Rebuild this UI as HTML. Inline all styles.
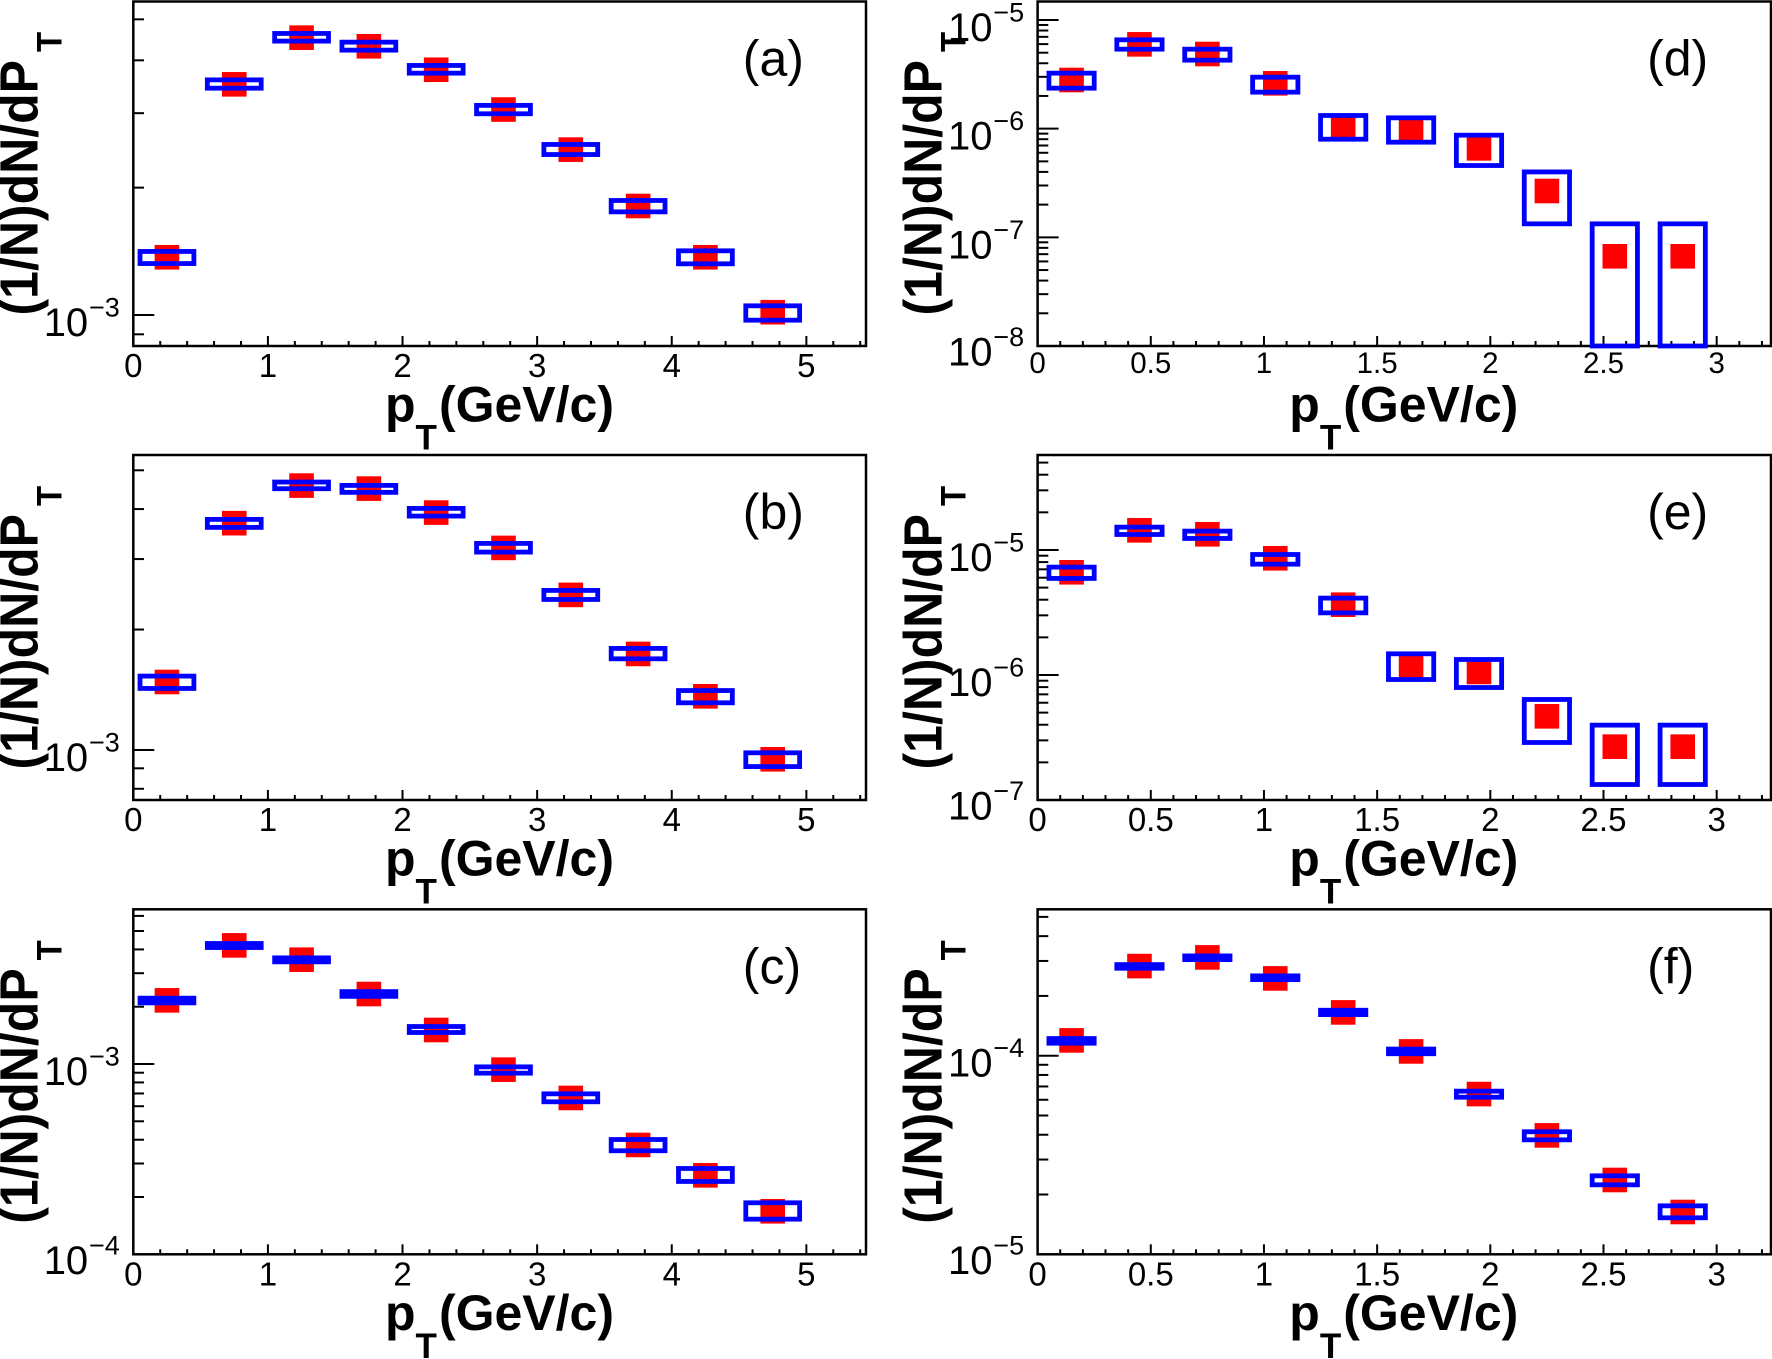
<!DOCTYPE html>
<html lang="en">
<head>
<meta charset="utf-8">
<title>Transverse momentum spectra, panels a to f</title>
<style>
  html, body { margin: 0; padding: 0; background: #fff; }
  svg { display: block; font-family: "Liberation Sans", sans-serif; }
</style>
</head>
<body>
<svg id="figure" xmlns="http://www.w3.org/2000/svg" width="1772" height="1359" viewBox="0 0 1772 1359"></svg>
<script>
// ----- shared x data -----
const xBinsWide = [0.25, 0.75, 1.25, 1.75, 2.25, 2.75, 3.25, 3.75, 4.25, 4.75];
const xBinsNarrow = [0.15, 0.45, 0.75, 1.05, 1.35, 1.65, 1.95, 2.25, 2.55, 2.85];
const xTicksWide = [0, 1, 2, 3, 4, 5];
const xTickLabelsWide = ['0', '1', '2', '3', '4', '5'];
const xTicksNarrow = [0, 0.5, 1, 1.5, 2, 2.5, 3];
const xTickLabelsNarrow = ['0', '0.5', '1', '1.5', '2', '2.5', '3'];

// ----- panel (a) -----
const aValues = [1.369e-3, 3.51e-3, 4.525e-3, 4.318e-3, 3.80e-3, 3.06e-3, 2.46e-3, 1.81e-3, 1.369e-3, 1.015e-3];
const aSysLow = [1.323e-3, 3.437e-3, 4.441e-3, 4.228e-3, 3.73e-3, 2.99e-3, 2.395e-3, 1.753e-3, 1.321e-3, 0.972e-3];
const aSysHigh = [1.413e-3, 3.596e-3, 4.630e-3, 4.416e-3, 3.89e-3, 3.13e-3, 2.53e-3, 1.865e-3, 1.418e-3, 1.051e-3];
const aYRange = [8.445e-4, 5.51e-3];
const aDecades = [-3];

// ----- panel (b) -----
const bValues = [1.479e-3, 3.688e-3, 4.579e-3, 4.50e-3, 3.92e-3, 3.199e-3, 2.441e-3, 1.738e-3, 1.362e-3, 0.948e-3];
const bSysLow = [1.425e-3, 3.60e-3, 4.497e-3, 4.404e-3, 3.842e-3, 3.123e-3, 2.378e-3, 1.690e-3, 1.312e-3, 0.909e-3];
const bSysHigh = [1.530e-3, 3.77e-3, 4.673e-3, 4.584e-3, 4.016e-3, 3.283e-3, 2.505e-3, 1.794e-3, 1.408e-3, 0.984e-3];
const bYRange = [7.5e-4, 5.46e-3];
const bDecades = [-3];

// ----- panel (c) -----
const cValues = [2.16e-3, 4.20e-3, 3.533e-3, 2.332e-3, 1.509e-3, 0.934e-3, 0.663e-3, 0.3755e-3, 0.260e-3, 0.1683e-3];
const cSysLow = [2.095e-3, 4.093e-3, 3.442e-3, 2.267e-3, 1.464e-3, 0.895e-3, 0.633e-3, 0.350e-3, 0.2414e-3, 0.1530e-3];
const cSysHigh = [2.218e-3, 4.297e-3, 3.612e-3, 2.401e-3, 1.574e-3, 0.966e-3, 0.697e-3, 0.401e-3, 0.2825e-3, 0.1865e-3];
const cYRange = [1e-4, 6.5e-3];
const cDecades = [-4, -3];

// ----- panel (d) -----
const dValues = [2.805e-6, 5.97e-6, 4.865e-6, 2.614e-6, 1.029e-6, 9.72e-7, 6.59e-7, 2.669e-7, 6.69e-8, 6.69e-8];
const dSysLow = [2.359e-6, 5.39e-6, 4.27e-6, 2.168e-6, 8.0e-7, 7.51e-7, 4.58e-7, 1.331e-7, 1e-8, 1e-8];
const dSysHigh = [3.242e-6, 6.57e-6, 5.39e-6, 2.978e-6, 1.322e-6, 1.258e-6, 8.71e-7, 4.0e-7, 1.331e-7, 1.331e-7];
const dYRange = [1e-8, 1.48e-5];
const dDecades = [-8, -7, -6, -5];

// ----- panel (e) -----
const eValues = [6.63e-6, 1.436e-5, 1.335e-5, 8.58e-6, 3.65e-6, 1.166e-6, 1.057e-6, 4.67e-7, 2.67e-7, 2.67e-7];
const eSysLow = [5.92e-6, 1.330e-5, 1.236e-5, 7.70e-6, 3.14e-6, 9.20e-7, 7.94e-7, 2.884e-7, 1.33e-7, 1.33e-7];
const eSysHigh = [7.29e-6, 1.523e-5, 1.415e-5, 9.20e-6, 4.12e-6, 1.477e-6, 1.330e-6, 6.37e-7, 3.97e-7, 3.97e-7];
const eYRange = [1e-7, 5.75e-5];
const eDecades = [-7, -6, -5];

// ----- panel (f) -----
const fValues = [1.194e-4, 2.827e-4, 3.126e-4, 2.45e-4, 1.652e-4, 1.051e-4, 6.41e-5, 3.97e-5, 2.367e-5, 1.633e-5];
const fSysLow = [1.156e-4, 2.757e-4, 3.048e-4, 2.417e-4, 1.611e-4, 1.023e-4, 6.18e-5, 3.77e-5, 2.238e-5, 1.527e-5];
const fSysHigh = [1.22e-4, 2.876e-4, 3.18e-4, 2.523e-4, 1.694e-4, 1.080e-4, 6.63e-5, 4.14e-5, 2.484e-5, 1.754e-5];
const fYRange = [1e-5, 5.46e-4];
const fDecades = [-5, -4];

// ----- layout -----
const NS = 'http://www.w3.org/2000/svg';
const svg = document.getElementById('figure');
const wideAxis = { x0: 133.3, x1: 866, xMax: 5.443, major: 1, halfBin: 0.2, bins: xBinsWide, ticks: xTicksWide, tickLabels: xTickLabelsWide };
const narrowAxis = { x0: 1037.6, x1: 1771, xMax: 3.24, major: 0.5, halfBin: 0.1, bins: xBinsNarrow, ticks: xTicksNarrow, tickLabels: xTickLabelsNarrow };
const panels = [
  { id: 'a', ax: wideAxis, top: 1.5, bottom: 346, range: aYRange, decades: aDecades, values: aValues, low: aSysLow, high: aSysHigh, tickFont: 33, tickDrop: 31 },
  { id: 'b', ax: wideAxis, top: 455, bottom: 800, range: bYRange, decades: bDecades, values: bValues, low: bSysLow, high: bSysHigh, tickFont: 33, tickDrop: 31 },
  { id: 'c', ax: wideAxis, top: 909.3, bottom: 1254.3, range: cYRange, decades: cDecades, values: cValues, low: cSysLow, high: cSysHigh, tickFont: 33, tickDrop: 31 },
  { id: 'd', ax: narrowAxis, top: 1.5, bottom: 346, range: dYRange, decades: dDecades, values: dValues, low: dSysLow, high: dSysHigh, tickFont: 29.5, tickDrop: 27 },
  { id: 'e', ax: narrowAxis, top: 455, bottom: 800, range: eYRange, decades: eDecades, values: eValues, low: eSysLow, high: eSysHigh, tickFont: 33, tickDrop: 31 },
  { id: 'f', ax: narrowAxis, top: 909.3, bottom: 1254.3, range: fYRange, decades: fDecades, values: fValues, low: fSysLow, high: fSysHigh, tickFont: 33, tickDrop: 31 }
];

function make(parent, tag, attrs, text) {
  const el = document.createElementNS(NS, tag);
  for (const k in attrs) el.setAttribute(k, attrs[k]);
  if (text !== undefined) el.textContent = text;
  parent.appendChild(el);
  return el;
}

function drawPanel(p) {
  const ax = p.ax;
  const xScale = v => ax.x0 + (v / ax.xMax) * (ax.x1 - ax.x0);
  const logMin = Math.log10(p.range[0]);
  const logMax = Math.log10(p.range[1]);
  const yScale = v => p.bottom - (Math.log10(v) - logMin) / (logMax - logMin) * (p.bottom - p.top);

  const g = make(svg, 'g', {});
  
  

  // markers
  p.values.forEach((v, i) => {
    const m = make(g, 'rect', { x: xScale(ax.bins[i]) - 12.3, y: yScale(v) - 12.3, width: 24.6, height: 24.6, fill: '#ff0000' });
    
    
  });

  // y ticks
  for (let k = Math.floor(logMin); k <= Math.ceil(logMax); k++) {
    for (let d = 1; d <= 9; d++) {
      const val = d * Math.pow(10, k);
      if (val < p.range[0] * 0.999 || val > p.range[1]) continue;
      const y = yScale(val);
      const t = make(g, 'line', { x1: ax.x0, x2: ax.x0 + (d === 1 ? 21 : 10.7), y1: y, y2: y, stroke: '#000', 'stroke-width': 2 });
      
      
    }
  }

  // x ticks
  const minorStep = ax.major / 5;
  for (let n = 0; n * minorStep <= ax.xMax; n++) {
    const x = xScale(n * minorStep);
    const isMajor = n % 5 === 0;
    const t = make(g, 'line', { x1: x, x2: x, y1: p.bottom, y2: p.bottom - (isMajor ? 10 : 5), stroke: '#000', 'stroke-width': 2 });
    
    
  }

  // frame
  const frame = make(g, 'rect', { x: ax.x0, y: p.top, width: ax.x1 - ax.x0, height: p.bottom - p.top, fill: 'none', stroke: '#000', 'stroke-width': 2.5 });
  
  

  // systematic boxes
  p.values.forEach((v, i) => {
    const yTop = yScale(p.high[i]);
    const yBot = yScale(p.low[i]);
    const xL = xScale(ax.bins[i] - ax.halfBin);
    const xR = xScale(ax.bins[i] + ax.halfBin);
    const b = make(g, 'rect', { x: xL, y: yTop, width: xR - xL, height: yBot - yTop, fill: 'none', stroke: '#0000ff', 'stroke-width': 4.8 });
    
    
  });

  // x tick labels
  ax.ticks.forEach((tv, i) => {
    const l = make(g, 'text', { x: xScale(tv), y: p.bottom + p.tickDrop, 'font-size': p.tickFont, 'text-anchor': 'middle', fill: '#000' }, ax.tickLabels[i]);
    
    
  });

  // y tick labels
  p.decades.forEach(k => {
    const y = yScale(Math.pow(10, k));
    const drop = Math.abs(y - p.bottom) < 1 ? 19.5 : 21;
    const base = make(g, 'text', { x: ax.x0 - 89.6, y: y + drop, 'font-size': 40, fill: '#000' }, '10');
    
    
    const sup = make(g, 'text', { x: ax.x0 - 44.3, y: y + drop - 19.5, 'font-size': 27, fill: '#000' }, '\u2212' + Math.abs(k));
    
    
  });

  // y title
  const yx = ax.x0 - 96;
  const yy = p.bottom - 30.5;
  const yTitle = make(g, 'text', { transform: 'translate(' + yx + ' ' + yy + ') rotate(-90) scale(1 1.07)', 'font-size': 50, 'font-weight': 'bold', fill: '#000' });
  
  
  make(yTitle, 'tspan', {}, '(1/N)dN/dP');
  make(yTitle, 'tspan', { 'font-size': 33, dx: 8, dy: 22.4 }, 'T');

  // x title
  const xTitle = make(g, 'text', { x: ax.x0 + 251.7, y: p.bottom + 75.7, 'font-size': 50, 'font-weight': 'bold', fill: '#000' });
  
  
  make(xTitle, 'tspan', {}, 'p');
  make(xTitle, 'tspan', { 'font-size': 35, dy: 28 }, 'T');
  make(xTitle, 'tspan', { dx: 2, dy: -28 }, '(GeV/c)');

  // panel letter
  const letter = make(g, 'text', { x: ax.x0 + 609.5, y: p.top + 74, 'font-size': 50, fill: '#000' }, '(' + p.id + ')');
  
  
}

panels.forEach(drawPanel);
</script>
</body>
</html>
